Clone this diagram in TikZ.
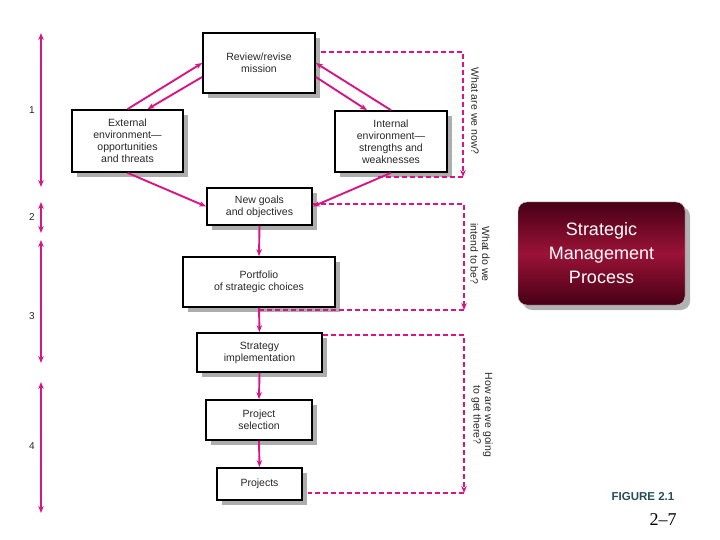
\documentclass[tikz,border=0pt]{standalone}
\usepackage{fontspec}
\setmainfont{Liberation Sans}
\newfontfamily\serifpage{Liberation Serif}
\usetikzlibrary{shadows,arrows.meta}
\definecolor{pinkline}{RGB}{214,22,132}
\definecolor{boxtext}{RGB}{40,40,40}
\definecolor{wine}{RGB}{155,18,55}
\definecolor{winedark}{RGB}{70,0,22}
\definecolor{figteal}{RGB}{38,78,88}
\begin{document}
\begin{tikzpicture}[x=1pt,y=-1pt,>={Stealth[length=7pt,width=5.5pt]},
    box/.style={draw, line width=1.7pt, fill=white, text=boxtext, align=center, inner sep=0pt,
        font=\fontsize{10.5}{12}\selectfont,
        drop shadow={shadow xshift=5pt, shadow yshift=-5pt, fill=black!32, opacity=1}},
    link/.style={pinkline, line width=1.9pt, ->},
    back/.style={pinkline, line width=2pt, dash pattern=on 5pt off 3pt},
    span/.style={pinkline, line width=2pt, <->},
    ask/.style={text=boxtext, align=center, font=\fontsize{10.5}{11.5}\selectfont, rotate=-90},
    numlab/.style={text=boxtext, font=\fontsize{10}{10}\selectfont}]
    \useasboundingbox (0,0) rectangle (720,540);

    \node[box, minimum width=112pt, minimum height=60pt] (rev) at (259,63) {Review/revise\\mission};
    \node[box, minimum width=111pt, minimum height=62pt] (ext) at (127.5,141) {External\\environment---\\opportunities\\and threats};
    \node[box, minimum width=112pt, minimum height=61pt] (int) at (391,141.5) {Internal\\environment---\\strengths and\\weaknesses};
    \node[box, minimum width=105pt, minimum height=37pt] (ng) at (259.5,206.5) {New goals\\and objectives};
    \node[box, minimum width=152pt, minimum height=50pt] (port) at (259,282) {Portfolio\\of strategic choices};
    \node[box, minimum width=125pt, minimum height=39pt] (strat) at (259.5,352.5) {Strategy\\implementation};
    \node[box, minimum width=106pt, minimum height=40pt] (psel) at (259,420) {Project\\selection};
    \node[box, minimum width=85pt, minimum height=32pt] (proj) at (259.5,484) {Projects};

    \draw[link] (ext.north) -- (rev.west);
    \draw[link] ([yshift=-14pt]rev.west) -- ([xshift=20pt]ext.north);
    \draw[link] (int.north) -- (rev.east);
    \draw[link] ([yshift=-14pt]rev.east) -- ([xshift=-24pt]int.north);
    \draw[link] (ext.south) -- (ng.west);
    \draw[link] (int.south) -- (ng.east);
    \draw[link] (ng.south) -- (port.north);
    \draw[link] (port.south) -- (strat.north);
    \draw[link] (strat.south) -- (psel.north);
    \draw[link] (psel.south) -- (proj.north);

    \coordinate (q1) at (463,177);
    \coordinate (q2) at (464,310);
    \coordinate (q3) at (464,493);
    \draw[back,->] ([xshift=5pt,yshift=11pt]rev.east) -| (q1);
    \draw[back] (q1) -- ++(-85,0);
    \draw[back,->] ([yshift=2.5pt]ng.east) -| (q2);
    \draw[back] (q2) -- (q2 -| port.south);
    \draw[back,->] ([yshift=-3pt]strat.north east) -| (q3);
    \draw[back] (q3) -- ++(-156,0);

    \node[ask] (now) at (475,111) {What are we now?};
    \node[ask] (intend) at (480,254) {What do we\\intend to be?};
    \node[ask] (going) at (482,415) {How are we going\\to get there?};

    \foreach \top/\bot/\num/\ny in {33/187/1/110, 202/233/2/217, 240/363/3/316, 382/513/4/446}{
        \draw[span] (41,\top) -- (41,\bot);
        \node[numlab] (n\num) at (32,\ny) {\num};
    }

    \node[draw=black!25, rounded corners=9pt, minimum width=167pt, minimum height=103pt,
        top color=winedark, bottom color=winedark, middle color=wine, text=white, align=center,
        font=\fontsize{18}{24}\selectfont,
        drop shadow={shadow xshift=5pt, shadow yshift=-5pt, fill=black!30, opacity=1}]
        (smp) at (601.5,253.5) {Strategic\\Management\\Process};

    \node[text=figteal, font=\bfseries\fontsize{11.5}{12}\selectfont] (fig) at (643,497) {FIGURE 2.1};
    \node[font=\serifpage\fontsize{18}{20}\selectfont] (pg) at (663,520) {2–7};
\end{tikzpicture}
\end{document}
